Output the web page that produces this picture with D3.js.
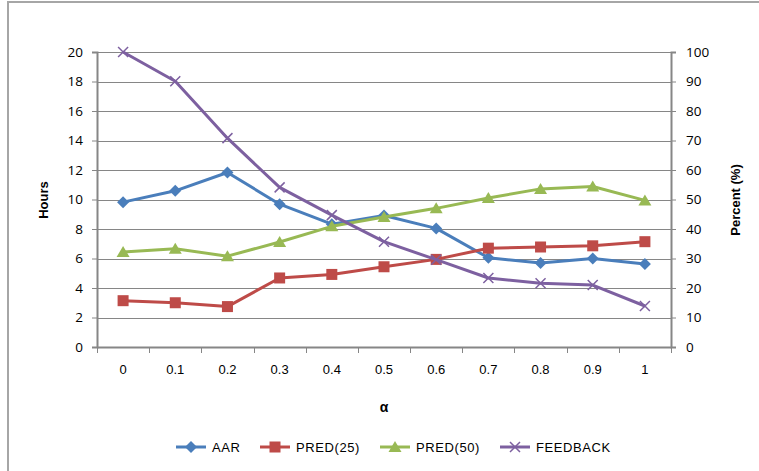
<!DOCTYPE html>
<html><head><meta charset="utf-8">
<script src="https://cdn.jsdelivr.net/npm/d3@7"></script>
<style>body{margin:0;background:#fff}svg{display:block}</style>
</head><body>
<svg id="c" width="759" height="471"></svg>
<script>
const categories = ["0","0.1","0.2","0.3","0.4","0.5","0.6","0.7","0.8","0.9","1"];
const aarHours = [9.82,10.59,11.83,9.68,8.33,8.92,8.04,6.05,5.69,6.0,5.62];
const pred25Pct = [15.7,15.0,13.7,23.4,24.6,27.2,29.7,33.5,33.9,34.3,35.7];
const pred50Pct = [32.2,33.3,30.8,35.6,40.9,44.1,47.0,50.5,53.6,54.4,49.7];
const feedbackPct = [100,90.1,70.8,54.1,44.7,35.7,29.6,23.4,21.6,21.0,13.9];
const hoursTicks = [0,2,4,6,8,10,12,14,16,18,20];
const pctTicks = [0,10,20,30,40,50,60,70,80,90,100];

const svg = d3.select("#c");
const L = 97, R = 671, T = 52, B = 347;
const font = "'Open Sans', 'Liberation Sans', Arial, sans-serif";
const bfont = "'Liberation Sans', Arial, sans-serif";

svg.append("path").attr("d","M8,480 L8,2 L770,2").attr("fill","none").attr("stroke","#a6a6a6").attr("stroke-width",2);

const x = d3.scaleBand().domain(categories).range([L,R]);
const yH = d3.scaleLinear().domain([0,20]).range([B,T]);
const yP = d3.scaleLinear().domain([0,100]).range([B,T]);

svg.append("g").selectAll("line").data(hoursTicks.slice(1)).join("line")
  .attr("x1",L).attr("x2",R).attr("y1",d=>Math.round(yH(d))+0.5).attr("y2",d=>Math.round(yH(d))+0.5)
  .attr("stroke","#868686").attr("stroke-width",1);

const gl = svg.append("g").attr("transform",`translate(${L},0)`)
  .call(d3.axisLeft(yH).tickValues(hoursTicks).tickSize(5).tickPadding(9).tickFormat(d3.format("d")));
const gr = svg.append("g").attr("transform",`translate(${R},0)`)
  .call(d3.axisRight(yP).tickValues(pctTicks).tickSize(5).tickPadding(10).tickFormat(d3.format("d")));
const gb = svg.append("g").attr("transform",`translate(0,${B})`)
  .call(d3.axisBottom(x).tickSize(0).tickPadding(18));
const bounds = categories.map(c=>x(c)).concat([R]);
svg.append("g").selectAll("line").data(bounds).join("line")
  .attr("x1",d=>Math.round(d)+0.5).attr("x2",d=>Math.round(d)+0.5).attr("y1",B).attr("y2",B+6)
  .attr("stroke","#868686");
[gl,gr,gb].forEach(g=>{
  g.selectAll("path.domain").attr("stroke","#868686").attr("stroke-width",2);
  g.selectAll(".tick line").attr("stroke","#868686");
  g.selectAll("text").attr("font-family",font).attr("font-size",13.5).attr("fill","#000");
});
gb.selectAll("text").attr("font-family","'Liberation Sans Narrow', 'Liberation Sans', sans-serif").attr("font-size",13);

svg.append("text").attr("transform","translate(48,200) rotate(-90)").attr("text-anchor","middle")
  .attr("font-family",bfont).attr("font-weight","bold").attr("font-size",13).text("Hours");
svg.append("text").attr("transform","translate(740,200) rotate(-90)").attr("text-anchor","middle")
  .attr("font-family",bfont).attr("font-weight","bold").attr("font-size",13).text("Percent (%)");
svg.append("text").attr("x",384).attr("y",412).attr("text-anchor","middle")
  .attr("font-family",bfont).attr("font-weight","bold").attr("font-size",14).text("α");

const cx = c => x(c) + x.bandwidth()/2;
const series = [
  {name:"AAR", vals:aarHours, y:yH, color:"#4a7ebb", marker:"diamond"},
  {name:"PRED(25)", vals:pred25Pct, y:yP, color:"#be4b48", marker:"square"},
  {name:"PRED(50)", vals:pred50Pct, y:yP, color:"#98b954", marker:"triangle"},
  {name:"FEEDBACK", vals:feedbackPct, y:yP, color:"#7d60a0", marker:"x"}
];

function drawMarker(g, type, color){
  if(type==="diamond") g.append("path").attr("d","M0,-6 L6,0 L0,6 L-6,0Z").attr("fill",color);
  else if(type==="square") g.append("rect").attr("x",-5.5).attr("y",-5.5).attr("width",11).attr("height",11).attr("fill",color);
  else if(type==="triangle") g.append("path").attr("d","M0,-6 L6.5,5 L-6.5,5Z").attr("fill",color);
  else g.append("path").attr("d","M-5,-5 L5,5 M-5,5 L5,-5").attr("stroke",color).attr("stroke-width",1.5).attr("fill","none");
}

series.forEach(s=>{
  const line = d3.line().x((d,i)=>cx(categories[i])).y(d=>s.y(d));
  svg.append("path").datum(s.vals).attr("d",line).attr("fill","none")
    .attr("stroke",s.color).attr("stroke-width",3).attr("stroke-linejoin","round");
  s.vals.forEach((v,i)=>{
    const g = svg.append("g").attr("transform",`translate(${cx(categories[i])},${s.y(v)})`);
    drawMarker(g, s.marker, s.color);
  });
});

const legX = [176,260,380,500];
series.forEach((s,i)=>{
  const g = svg.append("g").attr("transform",`translate(${legX[i]},447)`);
  g.append("line").attr("x1",0).attr("x2",30).attr("stroke",s.color).attr("stroke-width",3);
  const m = g.append("g").attr("transform","translate(15,0)");
  drawMarker(m, s.marker, s.color);
  g.append("text").attr("x",36).attr("y",5).attr("font-family",bfont).attr("font-size",13)
    .attr("letter-spacing",0.6).text(s.name);
});
</script>
</body></html>
